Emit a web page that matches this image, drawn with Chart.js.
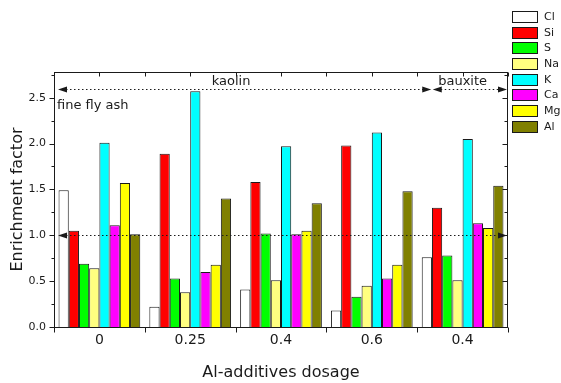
<!DOCTYPE html>
<html>
<head>
<meta charset="utf-8">
<script src="https://cdn.jsdelivr.net/npm/chart.js@4.4.0/dist/chart.umd.min.js"></script>
<style>
html, body { margin: 0; padding: 0; background: #fff; }
</style>
</head>
<body>
<canvas id="c" width="561" height="383"></canvas>
<script>
// data
const dosage = ['0', '0.25', '0.4', '0.6', '0.4'];
const elements = ['Cl', 'Si', 'S', 'Na', 'K', 'Ca', 'Mg', 'Al'];
const cl = [1.49, 0.22, 0.41, 0.18, 0.76];
const si = [1.05, 1.89, 1.58, 1.98, 1.30];
const s  = [0.69, 0.53, 1.02, 0.33, 0.78];
const na = [0.64, 0.38, 0.51, 0.45, 0.51];
const k  = [2.01, 2.57, 1.97, 2.12, 2.05];
const ca = [1.11, 0.60, 1.01, 0.53, 1.13];
const mg = [1.57, 0.68, 1.05, 0.68, 1.08];
const al = [1.01, 1.40, 1.35, 1.48, 1.54];
const colors = ['#ffffff', '#ff0000', '#00ff00', '#ffff80', '#00ffff', '#ff00ff', '#ffff00', '#808000'];
const yMax = 2.78;

const FONT = "'DejaVu Sans', sans-serif";
const INK = '#1a1a1a';

let series = [cl, si, s, na, k, ca, mg, al];

function arrow(ctx, x, y, dir) {
  ctx.beginPath();
  ctx.moveTo(x, y);
  ctx.lineTo(x - dir * 9, y - 3);
  ctx.lineTo(x - dir * 9, y + 3);
  ctx.closePath();
  ctx.fill();
}

function dotted(ctx, x1, x2, y) {
  ctx.save();
  ctx.setLineDash([1.5, 2.5]);
  ctx.beginPath();
  ctx.moveTo(x1, y);
  ctx.lineTo(x2, y);
  ctx.stroke();
  ctx.restore();
}

const frame = {
  id: 'frame',
  afterDatasetsDraw(chart) {
    const {ctx, chartArea: a, scales: {x, y}} = chart;
    const L = Math.round(a.left) + 0.5, R = Math.round(a.right) - 0.5;
    const T = Math.round(a.top) + 0.5, B = Math.round(a.bottom) + 0.5;
    ctx.save();
    ctx.strokeStyle = INK;
    ctx.fillStyle = INK;
    ctx.lineWidth = 1;
    ctx.strokeRect(L, T, R - L, B - T);

    ctx.beginPath();
    for (let i = 0; i * 0.25 <= yMax; i++) {
      const py = Math.round(y.getPixelForValue(i * 0.25)) + 0.5;
      const len = i % 2 === 0 ? 5 : 3;
      ctx.moveTo(L - len, py); ctx.lineTo(L, py);
      ctx.moveTo(R, py); ctx.lineTo(R - len, py);
    }
    for (let i = 0; i <= 10; i++) {
      const px = Math.round(x.getPixelForValue(i * 0.5 - 0.5)) + 0.5;
      ctx.moveTo(px, T); ctx.lineTo(px, T + 4);
      if (i % 2 === 0) { ctx.moveTo(px, B); ctx.lineTo(px, B + 5); }
    }
    ctx.stroke();

    // region markers
    const yTop = Math.round(y.getPixelForValue(2.59)) + 0.5;
    const yOne = Math.round(y.getPixelForValue(1.0)) + 0.5;
    const xl = a.left + 4, xr = a.right - 1;
    const xj = x.getPixelForValue(3.66);
    dotted(ctx, xl + 8, xj - 8, yTop);
    dotted(ctx, xj + 9, xr - 8, yTop);
    arrow(ctx, xl, yTop, -1);
    arrow(ctx, xj - 0.5, yTop, 1);
    arrow(ctx, xj + 1, yTop, -1);
    arrow(ctx, xr, yTop, 1);
    dotted(ctx, xl + 8, xr - 8, yOne);
    arrow(ctx, xl, yOne, -1);
    arrow(ctx, xr, yOne, 1);

    ctx.font = '13px ' + FONT;
    ctx.textBaseline = 'middle';
    ctx.textAlign = 'center';
    ctx.fillText('kaolin', x.getPixelForValue(1.45), y.getPixelForValue(2.67));
    ctx.fillText('bauxite', x.getPixelForValue(4.0), y.getPixelForValue(2.67));
    ctx.textAlign = 'left';
    ctx.fillText('fine fly ash', a.left + 3, y.getPixelForValue(2.41));
    ctx.restore();
  },
  afterDraw(chart) {
    const ctx = chart.ctx;
    ctx.save();
    ctx.font = '11px ' + FONT;
    ctx.textBaseline = 'middle';
    ctx.textAlign = 'left';
    chart.data.datasets.forEach((ds, i) => {
      const top = Math.round(11 + i * 15.67) + 0.5;
      ctx.fillStyle = ds.backgroundColor;
      ctx.fillRect(512.5, top, 25, 11);
      ctx.strokeStyle = INK;
      ctx.strokeRect(512.5, top, 25, 11);
      ctx.fillStyle = INK;
      ctx.fillText(ds.label, 544, top + 6);
    });
    ctx.restore();
  }
};

new Chart(document.getElementById('c'), {
  type: 'bar',
  data: {
    labels: dosage,
    datasets: elements.map((el, i) => ({
      label: el,
      data: series[i],
      backgroundColor: colors[i],
      borderColor: INK,
      borderWidth: 1,
      categoryPercentage: 0.9,
      barPercentage: 1.0
    }))
  },
  options: {
    responsive: false,
    animation: false,
    layout: { padding: { left: 0, right: 53, top: 72, bottom: 0 } },
    plugins: { legend: { display: false }, tooltip: { enabled: false } },
    scales: {
      x: {
        grid: { display: false, drawTicks: false },
        border: { display: false },
        ticks: { color: INK, font: { family: FONT, size: 14 }, padding: 5 },
        title: { display: true, text: 'Al-additives dosage', color: INK,
                 font: { family: FONT, size: 16 }, padding: { top: 0, bottom: 1 } },
        afterFit(sc) { sc.height = 56; }
      },
      y: {
        min: 0, max: yMax,
        grid: { display: false, drawTicks: false },
        border: { display: false },
        ticks: { stepSize: 0.5, includeBounds: false, color: INK,
                 font: { family: FONT, size: 11 }, padding: 8,
                 callback: (v) => v.toFixed(1) },
        title: { display: true, text: 'Enrichment factor', color: INK,
                 font: { family: FONT, size: 16 }, padding: { top: 8, bottom: 8 } },
        afterFit(sc) { sc.width = 54; }
      }
    }
  },
  plugins: [frame]
});
</script>
</body>
</html>
